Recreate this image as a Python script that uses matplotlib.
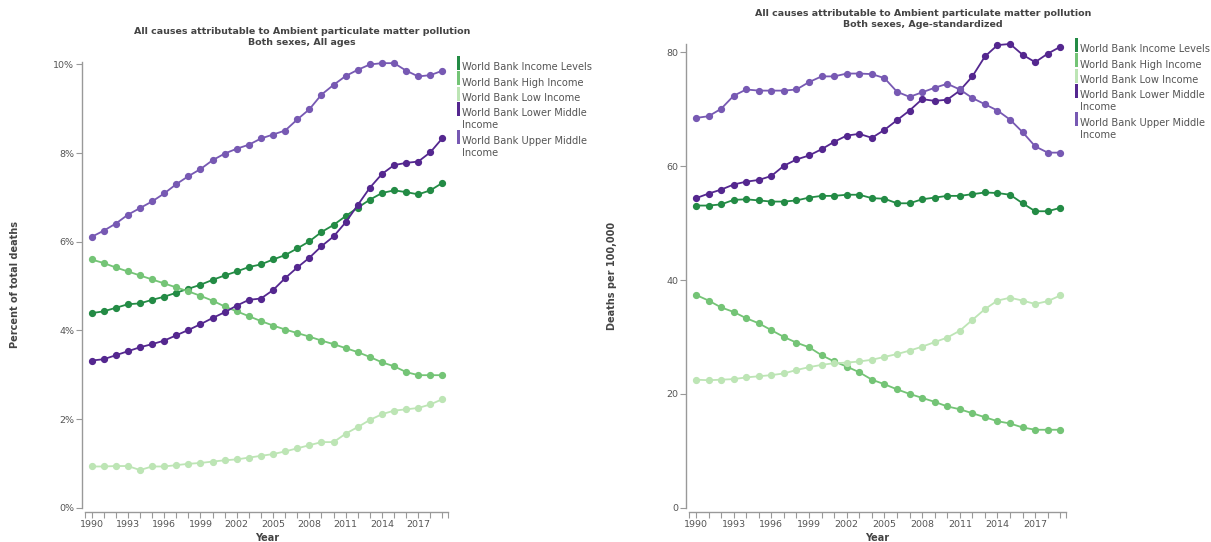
import matplotlib.pyplot as plt
from matplotlib.patches import Rectangle

W, H = 1211, 542

years = list(range(1990, 2020))

series_names = ["World Bank Income Levels", "World Bank High Income", "World Bank Low Income",
                "World Bank Lower Middle\nIncome", "World Bank Upper Middle\nIncome"]
series_colors = ["#238b45", "#74c476", "#bde5b5", "#54278f", "#7759b3"]

# left panel: percent of total deaths, all ages
pct_levels = [4.39, 4.43, 4.51, 4.59, 4.61, 4.69, 4.76, 4.85, 4.94, 5.03, 5.14, 5.24, 5.33, 5.43, 5.49,
              5.60, 5.70, 5.85, 6.01, 6.22, 6.38, 6.58, 6.77, 6.95, 7.10, 7.16, 7.12, 7.07, 7.16, 7.33]
pct_high = [5.60, 5.52, 5.42, 5.33, 5.24, 5.15, 5.06, 4.97, 4.88, 4.78, 4.67, 4.54, 4.43, 4.32, 4.21,
            4.11, 4.02, 3.94, 3.86, 3.77, 3.69, 3.60, 3.51, 3.40, 3.28, 3.19, 3.06, 2.99, 2.99, 2.99]
pct_low = [0.93, 0.93, 0.94, 0.94, 0.85, 0.93, 0.93, 0.96, 0.99, 1.01, 1.04, 1.07, 1.09, 1.13, 1.17,
           1.21, 1.27, 1.34, 1.41, 1.48, 1.48, 1.67, 1.82, 1.98, 2.11, 2.19, 2.22, 2.25, 2.33, 2.45]
pct_lower = [3.32, 3.35, 3.44, 3.53, 3.62, 3.69, 3.77, 3.89, 4.01, 4.14, 4.28, 4.41, 4.56, 4.69, 4.72,
             4.91, 5.18, 5.42, 5.64, 5.90, 6.12, 6.44, 6.83, 7.22, 7.53, 7.73, 7.78, 7.81, 8.02, 8.34]
pct_upper = [6.11, 6.25, 6.41, 6.61, 6.76, 6.91, 7.09, 7.30, 7.48, 7.64, 7.84, 7.99, 8.10, 8.19, 8.33,
             8.42, 8.51, 8.76, 8.99, 9.32, 9.54, 9.74, 9.88, 10.0, 10.03, 10.03, 9.86, 9.73, 9.76, 9.86]

# right panel: deaths per 100,000, age-standardized
rate_levels = [53.1, 53.1, 53.3, 54.1, 54.2, 54.0, 53.8, 53.8, 54.0, 54.5, 54.8, 54.8, 55.0, 55.0, 54.4,
               54.3, 53.5, 53.5, 54.2, 54.5, 54.8, 54.8, 55.1, 55.4, 55.3, 55.0, 53.5, 52.1, 52.1, 52.7]
rate_high = [37.4, 36.4, 35.2, 34.4, 33.3, 32.4, 31.2, 30.0, 29.0, 28.2, 26.8, 25.7, 24.8, 23.8, 22.5,
             21.7, 20.8, 20.0, 19.3, 18.6, 17.8, 17.3, 16.6, 15.9, 15.2, 14.8, 14.1, 13.7, 13.7, 13.7]
rate_low = [22.5, 22.4, 22.5, 22.6, 22.9, 23.1, 23.3, 23.6, 24.2, 24.7, 25.1, 25.4, 25.5, 25.7, 26.0,
            26.5, 27.0, 27.6, 28.3, 29.1, 29.9, 31.1, 33.0, 34.9, 36.4, 36.9, 36.4, 35.8, 36.3, 37.3]
rate_lower = [54.4, 55.2, 55.9, 56.8, 57.3, 57.6, 58.3, 60.1, 61.2, 61.9, 63.0, 64.3, 65.4, 65.7, 65.0,
              66.4, 68.1, 69.8, 71.8, 71.5, 71.7, 73.3, 75.8, 79.3, 81.3, 81.5, 79.6, 78.3, 79.8, 81.0]
rate_upper = [68.5, 68.8, 70.1, 72.4, 73.5, 73.3, 73.3, 73.3, 73.5, 74.8, 75.8, 75.8, 76.3, 76.3, 76.2,
              75.5, 73.1, 72.2, 73.0, 73.8, 74.5, 73.5, 72.0, 70.9, 69.8, 68.2, 66.0, 63.5, 62.4, 62.4]

left_ticks = [0, 2, 4, 6, 8, 10]
left_ticklabels = ["0%", "2%", "4%", "6%", "8%", "10%"]
right_ticks = [0, 20, 40, 60, 80]
year_labels = list(range(1990, 2020, 3))

TXT = "#555555"
AX = "#999999"
plt.rcParams['font.family'] = ['DejaVu Sans']

fig = plt.figure(figsize=(W / 100, H / 100), dpi=100)


def px(x0, y0, x1, y1):
    # pixel box (top-left origin) -> figure fraction rect
    return [x0 / W, 1 - y1 / H, (x1 - x0) / W, (y1 - y0) / H]


def style(ax, xlim, ylim, yticks, yticklabels, ylabel, title, title_x, title_y):
    ax.set_xlim(*xlim)
    ax.set_ylim(*ylim)
    for s in ["top", "right"]:
        ax.spines[s].set_visible(False)
    ax.spines["left"].set_position(("outward", 2.2))
    ax.spines["bottom"].set_position(("outward", 3))
    for s in ["left", "bottom"]:
        ax.spines[s].set_color(AX)
        ax.spines[s].set_linewidth(1.0)
    ax.set_xticks(years)
    ax.set_xticklabels([str(y) if y in year_labels else "" for y in years])
    ax.set_xticks(list(xlim), minor=True)
    ax.set_yticks(yticks)
    ax.set_yticklabels(yticklabels)
    ax.tick_params(axis="both", which="both", colors=AX, labelcolor=TXT, labelsize=6.8,
                   length=4, width=0.8, pad=1.5)
    ax.set_xlabel("Year", fontsize=7, fontweight="bold", color="#444444", va="center")
    ax.set_ylabel(ylabel, fontsize=7, fontweight="bold", color="#444444")
    fig.text(title_x / W, 1 - title_y / H,
             "All causes attributable to Ambient particulate matter pollution\n" + title,
             ha="center", va="top", fontsize=6.8, fontweight="bold", color="#444444",
             linespacing=1.35)


def legend(x, y0):
    y = y0
    for name, c in zip(series_names, series_colors):
        fig.add_artist(Rectangle(((x) / W, 1 - (y + 7.5) / H), 3 / W, 14 / H,
                                 transform=fig.transFigure, color=c, lw=0))
        fig.text((x + 5) / W, 1 - y / H, name, ha="left", va="top", fontsize=7.1,
                 color=TXT, linespacing=1.2, transform=fig.transFigure)
        y += 15.5 + (12 if "\n" in name else 0)
    return y


def lines(ax, data):
    for vals, c in zip(data, series_colors):
        ax.plot(years, vals, color=c, lw=1.3, marker="o", ms=4.2, mec=c, clip_on=False)


ax1 = fig.add_axes(px(85, 62, 448.3, 507.7))
lines(ax1, [pct_levels, pct_high, pct_low, pct_lower, pct_upper])
style(ax1, (1989.455, 2019.48), (0, 10.056), left_ticks, left_ticklabels,
      "Percent of total deaths", "Both sexes, All ages", 302, 27)
ax1.yaxis.set_label_coords(-0.18, 0.5)
ax1.xaxis.set_label_coords(0.5, -30.5 / 445.7)

ax2 = fig.add_axes(px(689.3, 44.3, 1065.7, 507.7))
lines(ax2, [rate_levels, rate_high, rate_low, rate_lower, rate_upper])
style(ax2, (1989.467, 2019.43), (0, 81.44), right_ticks, [str(t) for t in right_ticks],
      "Deaths per 100,000", "Both sexes, Age-standardized", 923, 9)
ax2.yaxis.set_label_coords(-0.193, 0.5)
ax2.xaxis.set_label_coords(0.5, -30.5 / 463.4)

legend(457, 62)
legend(1075, 44)

fig.savefig("out.png", dpi=100)
